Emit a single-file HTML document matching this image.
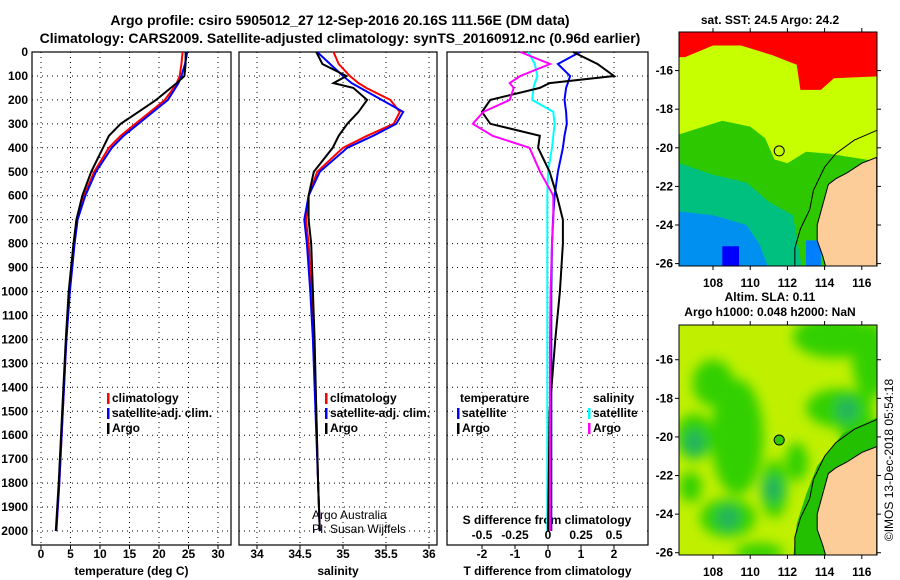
<!DOCTYPE html>
<html><head><meta charset="utf-8"><style>
body{margin:0;background:#fff;}
svg{display:block;font-family:"Liberation Sans",sans-serif;font-weight:bold;}
</style></head><body>
<svg id="c" width="900" height="580" viewBox="0 0 900 580">
<defs>
<filter id="bl" x="-50%" y="-50%" width="200%" height="200%"><feGaussianBlur stdDeviation="6"/></filter>
<clipPath id="m1c"><rect x="679" y="32" width="198" height="234"/></clipPath>
<clipPath id="m2c"><rect x="679" y="325" width="198" height="230"/></clipPath>
</defs>
<text x="340" y="25" font-size="14" text-anchor="middle">Argo profile: csiro 5905012_27 12-Sep-2016 20.16S 111.56E (DM data)</text>
<text x="340" y="43" font-size="14" text-anchor="middle">Climatology: CARS2009. Satellite-adjusted climatology: synTS_20160912.nc (0.96d earlier)</text>
<g id="plots"></g>
<g id="maps"></g>
<text transform="translate(893,460) rotate(-90)" font-size="12" font-weight="normal" text-anchor="middle">©IMOS 13-Dec-2018 05:54:18</text>
</svg>
<script>
// ---- data ----
const depthTicks=[0,100,200,300,400,500,600,700,800,900,1000,1100,1200,1300,1400,1500,1600,1700,1800,1900,2000];
const tTicks=[0,5,10,15,20,25,30];
const sTicks=[34,34.5,35,35.5,36];
const sTickLabels=["34","34.5","35","35.5","36"];
const dTTicks=[-2,-1,0,1,2];
const dSTickLabels=["-0.5","-0.25","0","0.25","0.5"];
const dSTicks=[-0.5,-0.25,0,0.25,0.5];
const pDepth=[0,50,100,130,150,200,250,300,350,400,500,600,700,800,1000,1200,1500,1800,2000];
const tArgo=[24.5,24.5,24.3,23,22,19.5,16.5,13.5,11.5,10.5,8.5,7,6,5.5,4.7,4.2,3.6,3,2.5];
const tClim=[24,23.8,23.5,23,22.5,21,18.5,16,13.5,11.5,9,7.3,6.1,5.6,4.8,4.3,3.7,3.1,2.6];
const tSat=[24.8,24.4,23.8,23.3,22.8,21.5,19,16.5,14,12,9.3,7.5,6.2,5.7,4.9,4.3,3.7,3.1,2.6];
const sArgo=[34.69,34.76,35.04,34.89,35.12,35.28,35.18,35.05,34.95,34.88,34.66,34.6,34.6,34.63,34.65,34.67,34.69,34.71,34.73];
const sClim=[34.89,34.95,35.08,35.18,35.27,35.55,35.66,35.59,35.28,35.0,34.7,34.6,34.57,34.6,34.64,34.66,34.69,34.71,34.73];
const sSat=[34.7,34.85,35.0,35.1,35.2,35.45,35.7,35.62,35.35,35.05,34.73,34.6,34.55,34.58,34.62,34.65,34.68,34.71,34.73];
const dTArgo=[0.76,1.5,2.0,0.05,-0.25,-1.75,-2.0,-1.75,-0.25,-0.3,0.05,0.27,0.45,0.45,0.36,0.22,0.05,0.02,0];
const dTSat=[0.97,0.3,0.67,0.6,0.55,0.5,0.55,0.57,0.5,0.45,0.3,0.2,0.15,0.12,0.1,0.1,0.1,0.1,0.1];
const dSArgo=[-0.21,0.015,-0.21,-0.29,-0.26,-0.29,-0.49,-0.57,-0.42,-0.14,-0.06,0.04,0.04,0.03,0.02,0.015,0.015,0.015,0.015];
const dSSat=[-0.15,-0.1,-0.08,-0.1,-0.11,-0.12,0.04,0.05,0.04,0.03,0,-0.005,-0.005,-0.005,-0.005,-0.005,-0.005,-0.005,-0.005];

const NS='http://www.w3.org/2000/svg';
function mk(tag,attrs,parent,txt){const e=document.createElementNS(NS,tag);for(const k in attrs)e.setAttribute(k,attrs[k]);if(txt!==undefined)e.textContent=txt;parent.appendChild(e);return e;}
const plots=document.getElementById('plots');
const yOf=d=>52+d*0.2395;
const pTop=52, pBot=545;
function panel(name,x0,x1,xs,ticks,labels,xlabel){
  const g=mk('g',{},plots);
  
  
  depthTicks.forEach(d=>{if(d>0){const l=mk('line',{x1:x0,x2:x1,y1:yOf(d),y2:yOf(d),stroke:'#000','stroke-dasharray':'1,4','stroke-width':1},g);}});
  ticks.forEach((v,i)=>{const x=xs(v);const l=mk('line',{x1:x,x2:x,y1:pTop,y2:pBot,stroke:'#000','stroke-dasharray':'1,4'},g);
    mk('line',{x1:x,x2:x,y1:pBot,y2:pBot+4,stroke:'#000'},g);
    if(labels){const t=mk('text',{x:x,y:558,'font-size':12,'text-anchor':'middle'},g,labels[i]);}});
  const r=mk('rect',{x:x0,y:pTop,width:x1-x0,height:pBot-pTop,fill:'none',stroke:'#000','stroke-width':1.2},g);
  
  const xl=mk('text',{x:(x0+x1)/2,y:575,'font-size':12,'text-anchor':'middle'},g,xlabel);
  
  return g;
}
function line(g,xs,vals,color,name){
  const pts=pDepth.map((d,i)=>xs(vals[i]).toFixed(1)+','+yOf(d).toFixed(1)).join(' ');
  const p=mk('polyline',{points:pts,fill:'none',stroke:color,'stroke-width':2},g);
  
  
}
function legend(g,x,y,items){
  items.forEach((it,i)=>{
    mk('rect',{x:x,y:y+i*15-9,width:2.5,height:11,fill:it[1]},g);
    const t=mk('text',{x:x+5,y:y+i*15,'font-size':12},g,it[0]);
    
    
  });
}
depthTicks.forEach(d=>{const t=mk('text',{x:28,y:yOf(d)+4,'font-size':12,'text-anchor':'end'},plots,String(d));});
const xT=v=>41+v*5.9;
const g1=panel('temperature-panel',32,231,xT,tTicks,tTicks.map(String),'temperature (deg C)');
line(g1,xT,tClim,'#f00','temp-climatology');
line(g1,xT,tSat,'#00f','temp-satellite-clim');
line(g1,xT,tArgo,'#000','temp-argo');
legend(g1,107,402,[['climatology','#f00'],['satellite-adj. clim.','#00f'],['Argo','#000']]);
const xS=v=>257+(v-34)*86;
const g2=panel('salinity-panel',239,437,xS,sTicks,sTickLabels,'salinity');
line(g2,xS,sClim,'#f00','sal-climatology');
line(g2,xS,sSat,'#00f','sal-satellite-clim');
line(g2,xS,sArgo,'#000','sal-argo');
legend(g2,325,402,[['climatology','#f00'],['satellite-adj. clim.','#00f'],['Argo','#000']]);
let tx=mk('text',{x:312,y:519,'font-size':12,'font-weight':'normal'},g2,'Argo Australia');
tx=mk('text',{x:312,y:533,'font-size':12,'font-weight':'normal'},g2,'PI: Susan Wijffels');
const xdT=v=>548+v*33;
const xdS=v=>548+v*132;
const g3=panel('difference-panel',447,648,xdT,dTTicks,dTTicks.map(String),'T difference from climatology');
mk('rect',{x:449,y:508,width:197,height:35,fill:'#fff'},g3);
dSTicks.forEach((v,i)=>{const tt=mk('text',{x:xdS(v),y:539,'font-size':12,'text-anchor':'middle'},g3,dSTickLabels[i]);});
tx=mk('text',{x:547,y:524,'font-size':12,'text-anchor':'middle'},g3,'S difference from climatology');
line(g3,xdS,dSSat,'#0ff','sal-diff-satellite');
line(g3,xdT,dTSat,'#00f','temp-diff-satellite');
line(g3,xdT,dTArgo,'#000','temp-diff-argo');
line(g3,xdS,dSArgo,'#f0f','sal-diff-argo');
tx=mk('text',{x:460,y:402,'font-size':12},g3,'temperature');
tx=mk('text',{x:593,y:402,'font-size':12},g3,'salinity');
legend(g3,457,417,[['satellite','#00f'],['Argo','#000']]);
legend(g3,588,417,[['satellite','#0ff'],['Argo','#f0f']]);

// ---- maps ----
const maps=document.getElementById('maps');
function mapAxes(y0,latTop,nm){
  const lx=v=>713+(v-108)*18.6;
  const ly=v=>y0+(latTop-v)*19.3;
  const g=mk('g',{},maps);
  
  
  return {g,lx,ly};
}
function poly(g,pts,lx,ly,fill,name,extra){
  const p=mk('polygon',Object.assign({points:pts.map(q=>lx(q[0]).toFixed(1)+','+ly(q[1]).toFixed(1)).join(' '),fill:fill},extra||{}),g);
  
  
  return p;
}
function frame(g,y0,h,lx,ly,lonY){
  [108,110,112,114,116].forEach(v=>{mk('line',{x1:lx(v),x2:lx(v),y1:y0,y2:y0-4,stroke:'#000'},g);mk('line',{x1:lx(v),x2:lx(v),y1:y0+h,y2:y0+h+4,stroke:'#000'},g);
    const tt=mk('text',{x:lx(v),y:lonY,'font-size':12,'text-anchor':'middle'},g,String(v));});
  [-16,-18,-20,-22,-24,-26].forEach(v=>{const y=ly(v);mk('line',{x1:675,x2:679,y1:y,y2:y,stroke:'#000'},g);mk('line',{x1:877,x2:881,y1:y,y2:y,stroke:'#000'},g);
    const tt=mk('text',{x:673,y:y+4,'font-size':12,'text-anchor':'end'},g,String(v));});
  const r=mk('rect',{x:679,y:y0,width:198,height:h,fill:'none',stroke:'#000'},g);
  
}
const land=[[116.8,-20.5],[116,-20.8],[115.2,-21.3],[114.6,-21.6],[114.2,-21.9],[114,-22.6],[113.8,-23.3],[113.6,-24],[113.6,-24.8],[113.9,-25.6],[114.1,-26.3],[116.8,-26.3]];
const iso=[[116.8,-19.1],[115.6,-19.6],[114.6,-20.3],[114,-21],[113.4,-22.2],[113.2,-23.2],[112.7,-24.2],[112.4,-25.2],[112.4,-26.3]];
(function(){
  const y0=32,h=234;
  const {g,lx,ly}=mapAxes(y0,-14.0,'sst-map');
  const c=mk('g',{'clip-path':'url(#m1c)'},g);
  mk('rect',{x:679,y:y0,width:198,height:h,fill:'#c8ff00'},c);
  poly(c,[[106.2,-13.9],[116.8,-13.9],[116.8,-16.3],[114.5,-16.4],[113.8,-17],[112.7,-17],[112.5,-15.7],[111.2,-15.2],[109.5,-14.7],[108,-14.7],[106.5,-15.3],[106.2,-15.3]],lx,ly,'#ff0000','sst-warm-region');
  poly(c,[[106.2,-19.3],[107.5,-18.9],[108.5,-18.6],[110,-18.9],[110.8,-19.5],[111.3,-20.6],[112,-20.8],[113,-20.2],[114.2,-20.3],[116.8,-20.7],[116.8,-26.3],[106.2,-26.3]],lx,ly,'#2ec800','sst-green-region');
  poly(c,[[106.2,-20.8],[108,-21.4],[109.8,-21.8],[111,-22.8],[112.3,-23.5],[112.8,-26.3],[106.2,-26.3]],lx,ly,'#00c080','sst-teal-region');
  poly(c,[[106.2,-23.3],[108,-23.5],[109.8,-24],[110.5,-25],[111,-26.3],[106.2,-26.3]],lx,ly,'#0090f0','sst-blue-region');
  poly(c,[[108.5,-25.1],[109.4,-25.1],[109.4,-26.3],[108.5,-26.3]],lx,ly,'#0000ff','sst-dark-blue');
  poly(c,[[113,-24.8],[113.8,-24.8],[113.8,-26.3],[113,-26.3]],lx,ly,'#0080ff','sst-coastal-blue');
  poly(c,land,lx,ly,'#fccc99','land',{stroke:'#000','stroke-width':1});
  const pl=mk('polyline',{points:iso.map(q=>lx(q[0])+','+ly(q[1])).join(' '),fill:'none',stroke:'#000','stroke-width':1},c);
  
  const ci=mk('circle',{cx:lx(111.56),cy:ly(-20.16),r:5,fill:'none',stroke:'#000'},c);
  
  frame(g,y0,h,lx,ly,287);
  const tt=mk('text',{x:770,y:24,'font-size':12,'text-anchor':'middle'},g,'sat. SST: 24.5 Argo: 24.2');
  
})();
(function(){
  const y0=325,h=230;
  const {g,lx,ly}=mapAxes(y0,-14.2,'sla-map');
  const c=mk('g',{'clip-path':'url(#m2c)'},g);
  mk('rect',{x:679,y:y0,width:198,height:h,fill:'#c0f000'},c);
  const bg=mk('g',{filter:'url(#bl)'},c);
  const blobs=[[114.5,-14.8,2.2,1.1],[116.5,-16,1,2],[108,-17.2,1.1,1.2],[114.8,-18.5,1.8,1],[107,-20,1,1.2],[109.3,-20,1.4,3],[111.3,-22.7,0.7,1.5],[108.8,-24.2,1.5,1],[106.8,-22.6,0.6,0.8],[115.8,-19.6,1,1],[110.5,-26,1.3,0.5],[112.5,-21.3,0.6,1]];
  blobs.forEach(b=>{const e=mk('ellipse',{cx:lx(b[0]),cy:ly(b[1]),rx:b[2]*18.6,ry:b[3]*19.3,fill:'#30d000'},bg);});
  [[111.2,-22.7],[108.8,-24.2],[107,-20.3],[115.2,-18.6]].forEach(b=>mk('ellipse',{cx:lx(b[0]),cy:ly(b[1]),rx:10,ry:12,fill:'#20b060'},bg));
  poly(c,[[116.8,-19],[115,-19.8],[113.6,-21.5],[113,-23],[112.5,-24.5],[112.3,-26.3],[116.8,-26.3]],lx,ly,'#22c000','sla-shelf');
  poly(c,land,lx,ly,'#fccc99','land',{stroke:'#000','stroke-width':1});
  const pl=mk('polyline',{points:iso.map(q=>lx(q[0])+','+ly(q[1])).join(' '),fill:'none',stroke:'#000','stroke-width':1},c);
  
  const ci=mk('circle',{cx:lx(111.56),cy:ly(-20.16),r:5,fill:'#30c800',stroke:'#000'},c);
  
  frame(g,y0,h,lx,ly,576);
  let tt=mk('text',{x:770,y:301,'font-size':12,'text-anchor':'middle'},g,'Altim. SLA: 0.11');
  
  tt=mk('text',{x:770,y:316,'font-size':12,'text-anchor':'middle'},g,'Argo h1000: 0.048 h2000: NaN');
  
})();
</script>
</body></html>
